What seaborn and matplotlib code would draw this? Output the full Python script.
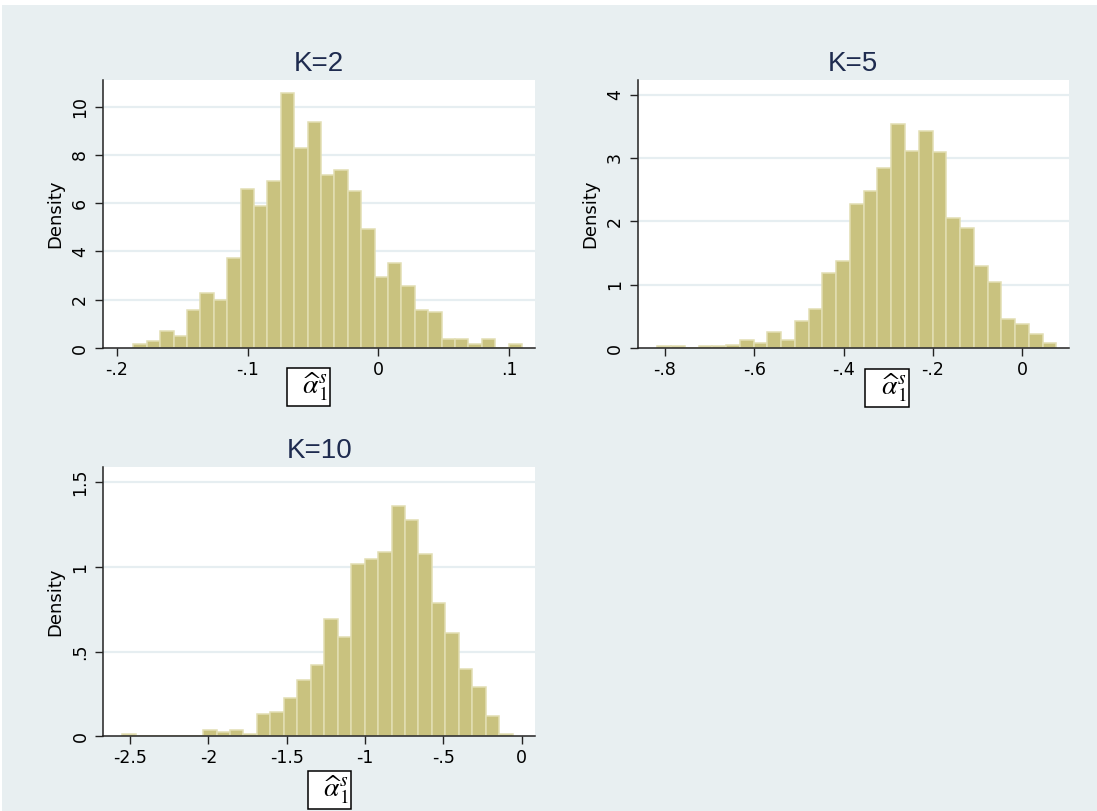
import numpy as np
import pandas as pd
import matplotlib
matplotlib.use("Agg")
import matplotlib.pyplot as plt
from matplotlib.ticker import FuncFormatter
from matplotlib.patches import Rectangle
import seaborn as sns

# ---- histogram data: bin range and bar heights (density) ----
k2_range = (-0.1873, 0.1097)
k2_density = [0.18, 0.29, 0.69, 0.48, 1.59, 2.28, 1.97, 3.72, 6.59, 5.90,
              6.90, 10.55, 8.28, 9.35, 7.17, 7.38, 6.50, 4.91, 2.94, 3.53,
              2.55, 1.59, 1.48, 0.39, 0.39, 0.18, 0.39, 0.00, 0.18]

k5_range = (-0.8173, 0.0761)
k5_density = [0.04, 0.04, 0.00, 0.04, 0.04, 0.06, 0.13, 0.09, 0.26, 0.13,
              0.43, 0.62, 1.18, 1.38, 2.28, 2.48, 2.85, 3.53, 3.11, 3.43,
              3.10, 2.06, 1.90, 1.30, 1.04, 0.46, 0.39, 0.23, 0.09]

k10_range = (-2.549, -0.0574)
k10_density = [0.015, 0.0, 0.0, 0.0, 0.0, 0.0, 0.037, 0.026, 0.037, 0.014,
               0.130, 0.142, 0.224, 0.331, 0.423, 0.691, 0.585, 1.020, 1.045, 1.089,
               1.358, 1.278, 1.077, 0.785, 0.610, 0.400, 0.293, 0.118, 0.012]

titles = ["K=2", "K=5", "K=10"]
x_ticks = [[-0.2, -0.1, 0.0, 0.1],
           [-0.8, -0.6, -0.4, -0.2, 0.0],
           [-2.5, -2.0, -1.5, -1.0, -0.5, 0.0]]
y_ticks = [[0, 2, 4, 6, 8, 10],
           [0, 1, 2, 3, 4],
           [0, 0.5, 1.0, 1.5]]
x_limits = [(-0.2105, 0.1196), (-0.861, 0.1044), (-2.670, 0.085)]
y_limits = [(0, 11.1), (0, 4.23), (0, 1.589)]

# ---- style ----
BG = "#e8eff1"
BAR = "#c9c27f"
BAR_EDGE = "#e2deb3"
GRID = "#e6eef1"
TITLE_COLOR = "#1e2b4f"
TITLE_FONT = ["Liberation Sans", "DejaVu Sans"]

sns.set_theme(style="white")
plt.rcParams["font.family"] = ["DejaVu Sans"]
plt.rcParams["mathtext.fontset"] = "stix"


def stata_fmt(v, pos):
    v = round(v, 6)
    if v == 0:
        return "0"
    s = f"{v:g}"
    if abs(v) < 1:
        s = s.replace("0.", ".", 1)
    return s


fig = plt.figure(figsize=(10.97, 8.11), dpi=100, facecolor=BG)
# thin white border strip along the top and left edge
fig.patches.append(Rectangle((0, 1 - 5 / 811), 1, 5 / 811, transform=fig.transFigure,
                             facecolor="white", edgecolor="none", zorder=0))
fig.patches.append(Rectangle((0, 0), 2 / 1097, 1, transform=fig.transFigure,
                             facecolor="white", edgecolor="none", zorder=0))

axes_rects = [
    [0.0939, 0.5709, 0.3938, 0.3305],
    [0.5813, 0.5705, 0.3932, 0.3309],
    [0.0942, 0.0921, 0.3935, 0.3317],
]
label_pos = [(0.4757, -0.1455), (0.578, -0.148), (0.523, -0.1996)]

datasets = [(k2_range, k2_density), (k5_range, k5_density), (k10_range, k10_density)]

for i, ((lo, hi), dens) in enumerate(datasets):
    ax = fig.add_axes(axes_rects[i])
    ax.set_facecolor("white")
    n = len(dens)
    edges = np.linspace(lo, hi, n + 1)
    centers = (edges[:-1] + edges[1:]) / 2
    df = pd.DataFrame({"value": centers, "density": dens})
    df = df[df["density"] > 0]
    sns.histplot(data=df, x="value", weights="density", bins=n, binrange=(lo, hi),
                 ax=ax, stat="count", color=BAR, edgecolor=BAR_EDGE, linewidth=1.1,
                 alpha=1.0, zorder=2)

    ax.set_xlim(*x_limits[i])
    ax.set_ylim(*y_limits[i])
    ax.set_xticks(x_ticks[i])
    ax.set_yticks(y_ticks[i])
    ax.xaxis.set_major_formatter(FuncFormatter(stata_fmt))
    ax.yaxis.set_major_formatter(FuncFormatter(stata_fmt))

    # horizontal grid lines at the major y ticks
    for yv in y_ticks[i]:
        if yv > 0:
            ax.axhline(yv, color=GRID, lw=1.6, zorder=1)

    for side in ["top", "right"]:
        ax.spines[side].set_visible(False)
    for side in ["left", "bottom"]:
        ax.spines[side].set_color("#222222")
        ax.spines[side].set_linewidth(1.1)
        ax.spines[side].set_zorder(3)

    ax.tick_params(axis="both", which="major", direction="out", length=6, width=1.0,
                   color="#222222", labelsize=12.5, labelcolor="black",
                   bottom=True, left=True)
    ax.tick_params(axis="x", pad=3)
    ax.tick_params(axis="y", pad=4)
    for lab in ax.get_yticklabels():
        lab.set_rotation(90)
        lab.set_va("center")

    ax.set_title(titles[i], color=TITLE_COLOR, fontsize=20, pad=6.5,
                 family=TITLE_FONT)
    ax.set_ylabel("Density", fontsize=13, color="black")
    ax.yaxis.label.set_verticalalignment("center")
    ax.yaxis.set_label_coords(-0.111, 0.5)
    ax.set_xlabel(r"$\:\;\,\widehat{\alpha}_1^s\:\;\,$", fontsize=20, color="black",
                  bbox=dict(boxstyle="square,pad=0.08", facecolor="white",
                            edgecolor="black", linewidth=1.1))
    ax.xaxis.set_label_coords(*label_pos[i])
    ax.xaxis.label.set_verticalalignment("center")

fig.savefig("out.png", dpi=100, facecolor=BG)
